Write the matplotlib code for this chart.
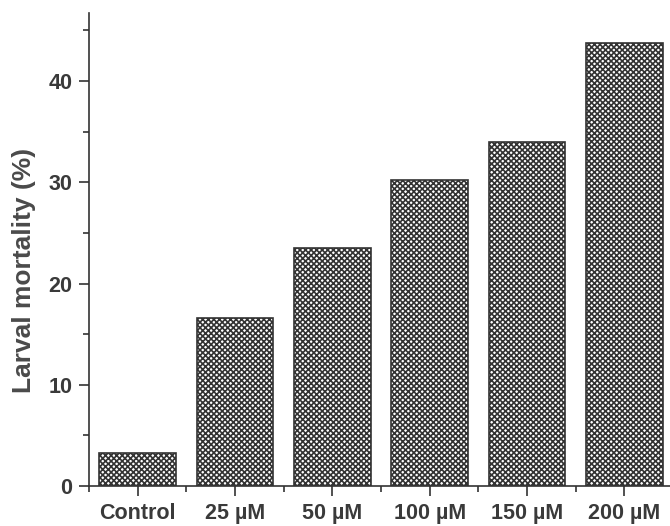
import matplotlib.pyplot as plt
from matplotlib.ticker import MultipleLocator, FixedLocator

# larval mortality for each treatment
treatments = ['Control', '25 \u00b5M', '50 \u00b5M', '100 \u00b5M', '150 \u00b5M', '200 \u00b5M']
mortality = [3.3, 16.6, 23.5, 30.2, 34.0, 43.8]

plt.rcParams['font.family'] = ['Liberation Sans', 'DejaVu Sans']
plt.rcParams['hatch.color'] = '#303030'
plt.rcParams['hatch.linewidth'] = 1.2

ink = '#333333'

fig = plt.figure(figsize=(6.70, 5.26), dpi=100)
ax = fig.add_axes([0.133, 0.076, 0.867, 0.899])

xpos = range(len(treatments))
ax.bar(xpos, mortality, width=0.79, color='white', edgecolor=ink,
       linewidth=1.2, hatch='xxxxxx')

ax.set_xlim(-0.5, 5.47)
ax.set_ylim(0, 46.7)

# major ticks at 10s, minor at 5s on y; bar centres and gaps on x
ax.yaxis.set_major_locator(MultipleLocator(10))
ax.yaxis.set_minor_locator(MultipleLocator(5))
ax.set_xticks(list(xpos))
ax.set_xticklabels(treatments)
ax.xaxis.set_minor_locator(FixedLocator([i - 0.5 for i in range(len(treatments) + 1)]))

ax.tick_params(axis='both', which='major', direction='out', length=7, width=1.2,
               colors=ink, labelsize=15.5)
ax.tick_params(axis='y', which='major', pad=5)
ax.tick_params(axis='x', which='major', pad=5)
ax.tick_params(axis='both', which='minor', direction='out', length=4, width=1.2, colors=ink)
for lab in ax.get_xticklabels() + ax.get_yticklabels():
    lab.set_fontweight('bold')
    lab.set_color('#3a3a3a')

for side in ['top', 'right']:
    ax.spines[side].set_visible(False)
for side in ['left', 'bottom']:
    ax.spines[side].set_color(ink)
    ax.spines[side].set_linewidth(1.2)

ax.set_ylabel('Larval mortality (%)', fontsize=19, fontweight='bold', color='#4a4a4a')
ax.yaxis.set_label_coords(-0.092, 0.455)

fig.savefig('out.png', dpi=100)
